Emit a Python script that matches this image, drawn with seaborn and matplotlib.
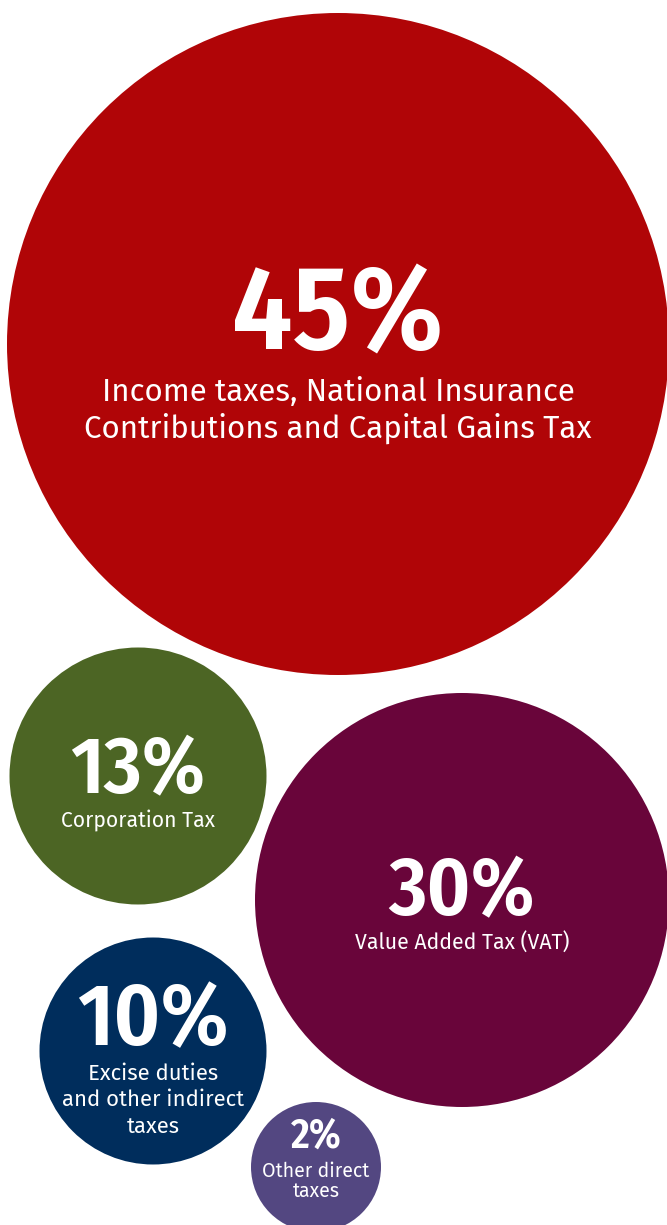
import matplotlib
matplotlib.use("Agg")
import matplotlib.pyplot as plt
import seaborn as sns
import pandas as pd

# Share of UK tax receipts by type
shares = [45, 13, 30, 10, 2]
labels = [
    ["Income taxes, National Insurance", "Contributions and Capital Gains Tax"],
    ["Corporation Tax"],
    ["Value Added Tax (VAT)"],
    ["Excise duties", "and other indirect", "taxes"],
    ["Other direct", "taxes"],
]
colors = ["#B00507", "#4C6524", "#69053A", "#002D5C", "#534781"]

# Bubble layout in pixel space: centre x, centre y, radius
centre_x = [338, 138, 462, 153, 316]
centre_y = [344, 776, 900, 1051, 1167]
radius = [331, 128.5, 207, 113.5, 65]

# Text layout: baseline of the percentage, first label baseline, line step, font sizes
pct_base = [349, 793, 915, 1045, 1148]
lab_base = [401, 827, 950, 1080, 1177]
lab_step = [37, 0, 0, 26.5, 20]
pct_size = [86, 58.5, 59, 63, 29.5]
lab_size = [22.5, 15.2, 15.3, 15.9, 14.1]

W, H, DPI = 667, 1225, 100
sns.set_theme(style="white")
plt.rcParams["font.family"] = ["Fira Sans", "DejaVu Sans"]
PCT_FONT = ["Fira Sans Condensed", "DejaVu Sans"]

fig = plt.figure(figsize=(W / DPI, H / DPI), dpi=DPI)
ax = fig.add_axes([0, 0, 1, 1])
ax.set_xlim(0, W)
ax.set_ylim(H, 0)
ax.set_aspect("equal")
ax.axis("off")

names = [f"{s}%" for s in shares]
df = pd.DataFrame({"x": centre_x, "y": centre_y, "name": names})
px_to_pt = 72 / DPI
size_map = {n: (2 * r * px_to_pt) ** 2 for n, r in zip(names, radius)}
sns.scatterplot(
    data=df, x="x", y="y", hue="name", size="name",
    palette=dict(zip(names, colors)), sizes=size_map,
    linewidth=0, legend=False, ax=ax, clip_on=False,
)

for i, n in enumerate(names):
    ax.text(centre_x[i], pct_base[i], n, color="white", fontsize=pct_size[i],
            family=PCT_FONT, fontweight="semibold", ha="center", va="baseline")
    for j, line in enumerate(labels[i]):
        ax.text(centre_x[i], lab_base[i] + j * lab_step[i], line, color="white",
                fontsize=lab_size[i], ha="center", va="baseline")

fig.savefig("out.png", dpi=DPI, facecolor="white")
